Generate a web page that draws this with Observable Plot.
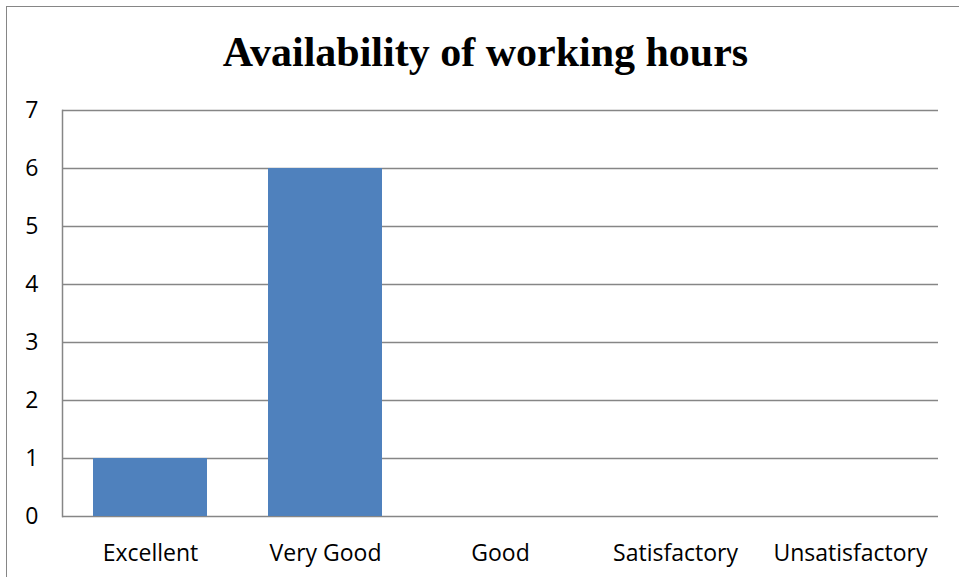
<!DOCTYPE html>
<html>
<head>
<meta charset="utf-8">
<script src="https://cdn.jsdelivr.net/npm/d3@7"></script>
<script src="https://cdn.jsdelivr.net/npm/@observablehq/plot@0.6"></script>
<style>
  html, body { margin: 0; padding: 0; background: #fff; }
  #page { position: relative; width: 959px; height: 577px; overflow: hidden; }
  #frame { position: absolute; left: 6px; top: 6px; width: 1000px; height: 620px;
           border-left: 1.5px solid #868686; border-top: 1.5px solid #868686; box-sizing: border-box; }
  #title { position: absolute; left: 6px; top: 31px; width: 959px; text-align: center;
           font-family: "Liberation Serif", "Times New Roman", serif; font-weight: bold; font-size: 42px;
           line-height: 43px; color: #000; white-space: nowrap; }
  #chart { position: absolute; left: 0; top: 80px; }
</style>
</head>
<body>
<div id="page">
  <div id="frame"></div>
  <div id="title">Availability of working hours</div>
  <div id="chart"></div>
</div>
<script>
const categories = ["Excellent", "Very Good", "Good", "Satisfactory", "Unsatisfactory"];
const counts = [1, 6, 0, 0, 0];
const yTicks = [0, 1, 2, 3, 4, 5, 6, 7];

const data = categories.map((c, i) => ({category: c, count: counts[i]}));

const chart = Plot.plot({
  width: 959,
  height: 497,
  marginTop: 30,
  marginBottom: 61,
  marginLeft: 62,
  marginRight: 21,
  style: {fontFamily: "'Open Sans', sans-serif", fontSize: "23px", color: "#000", background: "transparent", overflow: "visible"},
  x: {domain: categories, paddingInner: 0.35, paddingOuter: 0.175, label: null},
  y: {domain: [0, 7], ticks: yTicks, label: null},
  marks: [
    Plot.ruleY(yTicks, {stroke: "#868686", strokeWidth: 1.5, strokeOpacity: 1}),
    Plot.barY(data, {x: "category", y: "count", fill: "#4F81BD"}),
    Plot.frame({anchor: "left", stroke: "#868686", strokeWidth: 1.5, strokeOpacity: 1}),
    Plot.axisX({tickSize: 0, tickPadding: 28, fontSize: 23, fill: "#000", label: null}),
    Plot.axisY({ticks: yTicks, tickFormat: d3.format("d"), tickSize: 0, tickPadding: 24, fontSize: 23, fill: "#000", label: null})
  ]
});
document.getElementById("chart").appendChild(chart);
</script>
</body>
</html>
